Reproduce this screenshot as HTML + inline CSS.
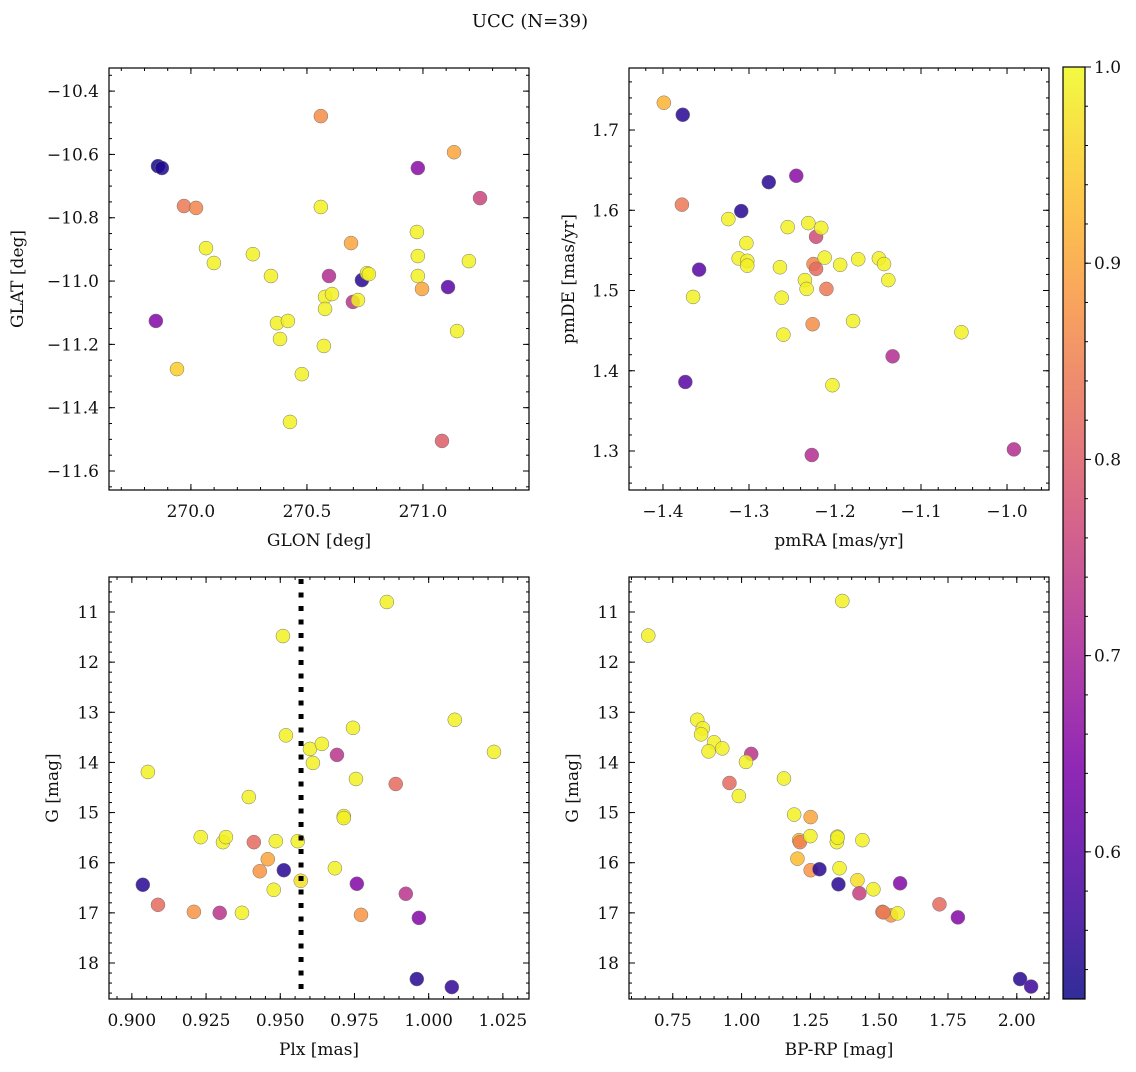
<!DOCTYPE html>
<html><head><meta charset="utf-8"><style>
body{margin:0;background:#fff;}
svg text{font-family:"DejaVu Serif","Liberation Serif",serif;fill:#111;}
</style></head><body>
<svg id="fig" width="1136" height="1067" xmlns="http://www.w3.org/2000/svg">
<text x="530" y="27" font-size="18" text-anchor="middle">UCC (N=39)</text>
</svg>
<script>
// Panel 1: GLON vs GLAT
const glon=[269.858,269.875,269.970,270.022,270.065,270.099,269.849,269.940,270.267,270.345,270.371,270.384,270.418,270.478,270.427,270.560,270.560,270.578,270.578,270.573,270.595,270.608,270.690,270.698,270.720,270.737,270.759,270.767,270.978,270.974,270.978,270.978,270.996,271.082,271.108,271.134,271.147,271.198,271.246];
const glat=[-10.637,-10.643,-10.763,-10.769,-10.896,-10.943,-11.126,-11.278,-10.915,-10.984,-11.133,-11.183,-11.126,-11.294,-11.445,-10.479,-10.766,-11.050,-11.088,-11.205,-10.984,-11.041,-10.880,-11.066,-11.060,-10.997,-10.975,-10.978,-10.643,-10.845,-10.921,-10.984,-11.025,-11.505,-11.019,-10.593,-11.158,-10.937,-10.738];
const prob1=[0.53,0.54,0.84,0.86,0.99,0.99,0.65,0.95,0.99,0.99,0.99,0.99,0.99,0.99,0.99,0.87,0.99,0.99,0.99,0.99,0.72,0.99,0.90,0.73,0.99,0.55,0.99,0.99,0.66,0.99,0.99,0.99,0.90,0.80,0.60,0.90,0.99,0.99,0.76];
// Panel 2: pmRA vs pmDE
const pmra=[-1.399,-1.377,-1.378,-1.358,-1.365,-1.374,-1.324,-1.312,-1.309,-1.303,-1.302,-1.302,-1.277,-1.264,-1.262,-1.260,-1.255,-1.245,-1.235,-1.233,-1.231,-1.227,-1.226,-1.225,-1.222,-1.222,-1.216,-1.212,-1.210,-1.203,-1.194,-1.179,-1.173,-1.149,-1.143,-1.138,-1.133,-1.053,-0.992];
const pmde=[1.734,1.719,1.607,1.526,1.492,1.386,1.589,1.540,1.599,1.559,1.537,1.531,1.635,1.529,1.491,1.445,1.579,1.643,1.513,1.502,1.584,1.295,1.458,1.533,1.527,1.567,1.578,1.541,1.502,1.382,1.532,1.462,1.539,1.540,1.533,1.513,1.418,1.448,1.302];
const prob2=[0.92,0.55,0.84,0.60,0.99,0.60,0.99,0.99,0.55,0.99,0.99,0.99,0.55,0.99,0.99,0.99,0.99,0.66,0.99,0.99,0.99,0.72,0.87,0.86,0.82,0.77,0.99,0.99,0.84,0.99,0.99,0.99,0.99,0.99,0.99,0.99,0.72,0.99,0.72];
// Panel 3: Plx vs G
const plx=[0.9054,0.9037,0.9088,0.9209,0.9296,0.9371,0.9394,0.9232,0.9307,0.9317,0.9411,0.9485,0.9458,0.9431,0.9512,0.9478,0.9559,0.9569,0.9600,0.9610,0.9640,0.9691,0.9755,0.9714,0.9714,0.9684,0.9758,0.9889,0.9923,0.9772,0.9967,0.9509,0.9519,0.9745,0.9859,0.9960,1.0078,1.0088,1.0220];
const gmag3=[14.19,16.44,16.84,16.98,17.00,17.00,14.69,15.49,15.59,15.49,15.59,15.57,15.93,16.17,16.15,16.54,15.57,16.36,13.73,14.01,13.63,13.85,14.33,15.07,15.11,16.11,16.42,14.43,16.62,17.04,17.10,11.48,13.46,13.31,10.80,18.32,18.48,13.15,13.79];
const prob3=[0.99,0.55,0.82,0.88,0.73,0.99,0.99,0.99,0.99,0.99,0.82,0.99,0.90,0.88,0.55,0.99,0.99,0.97,0.99,0.99,0.99,0.73,0.99,0.99,0.99,0.99,0.65,0.82,0.73,0.88,0.65,0.99,0.99,0.99,0.99,0.55,0.56,0.99,0.99];
const plxLine=0.957;
// Panel 4: BP-RP vs G
const bprp=[0.661,1.366,0.839,0.859,0.853,0.900,0.880,0.930,1.035,1.016,1.154,0.956,0.990,1.191,1.251,1.209,1.212,1.250,1.348,1.346,1.439,1.203,1.251,1.283,1.356,1.352,1.421,1.428,1.479,1.576,1.719,1.512,1.543,1.567,1.786,2.012,2.052,1.349,1.515];
const gmag4=[11.47,10.78,13.15,13.32,13.44,13.60,13.78,13.72,13.83,13.99,14.32,14.41,14.67,15.04,15.09,15.55,15.59,15.47,15.48,15.59,15.55,15.92,16.15,16.13,16.11,16.43,16.35,16.61,16.53,16.41,16.83,16.98,17.05,17.01,17.09,18.32,18.47,15.50,16.99];
const prob4=[0.99,0.99,0.99,0.99,0.99,0.99,0.99,0.99,0.73,0.99,0.99,0.82,0.99,0.99,0.90,0.93,0.85,0.99,0.99,0.99,0.99,0.93,0.88,0.55,0.99,0.55,0.97,0.75,0.99,0.65,0.82,0.85,0.88,0.99,0.65,0.55,0.57,0.99,0.84];
const cbTicks=[0.6,0.7,0.8,0.9,1.0];
const VMIN=0.525,VMAX=1.0;

const NS="http://www.w3.org/2000/svg";
const svg=document.getElementById('fig');
function mk(tag,attrs,parent){const e=document.createElementNS(NS,tag);for(const k in attrs)e.setAttribute(k,attrs[k]);(parent||svg).appendChild(e);return e;}
const stops=[[0,[13,8,135]],[0.125,[75,3,161]],[0.25,[125,3,168]],[0.375,[168,34,150]],[0.5,[203,70,121]],[0.625,[229,107,93]],[0.75,[248,148,65]],[0.875,[253,195,40]],[1,[240,249,33]]];
function plasma(t){t=Math.max(0,Math.min(1,t));for(let i=1;i<stops.length;i++){if(t<=stops[i][0]){const a=stops[i-1],b=stops[i],f=(t-a[0])/(b[0]-a[0]);const c=a[1].map((v,j)=>Math.round(v+(b[1][j]-v)*f));return `rgb(${c[0]},${c[1]},${c[2]})`;}}return 'rgb(240,249,33)';}
function fmt(v,d){const s=v.toFixed(d);return s.replace('-','\u2212');}

function panel(name,L,T,W,H,xmin,xmax,ymin,ymax,xMaj,xMin,yMaj,yMin,xd,yd,xlab,ylab,ylabX,xs,ys,ps,inv){
  const g=mk('g',{});
  
  
  const sx=v=>L+(v-xmin)/(xmax-xmin)*W;
  const sy=inv?(v=>T+(v-ymin)/(ymax-ymin)*H):(v=>T+H-(v-ymin)/(ymax-ymin)*H);
  const pts=mk('g',{},g);
  
  
  for(let i=0;i<xs.length;i++){
    const c=mk('circle',{cx:sx(xs[i]),cy:sy(ys[i]),r:7,fill:plasma((ps[i]-VMIN)/(VMAX-VMIN)),'fill-opacity':0.85,stroke:'#777','stroke-width':0.5},pts);
    
    
  }
  const ax=mk('g',{},g);
  
  
  mk('rect',{x:L,y:T,width:W,height:H,fill:'none',stroke:'#000','stroke-width':1.2},ax);
  const e=1e-9;
  for(let v=Math.ceil(xmin/xMin-e)*xMin;v<=xmax+e;v+=xMin){const X=sx(v);mk('line',{x1:X,x2:X,y1:T+H,y2:T+H-3,stroke:'#000'},ax);mk('line',{x1:X,x2:X,y1:T,y2:T+3,stroke:'#000'},ax);}
  for(let v=Math.ceil(xmin/xMaj-e)*xMaj;v<=xmax+e;v+=xMaj){const X=sx(v);mk('line',{x1:X,x2:X,y1:T+H,y2:T+H-6,stroke:'#000'},ax);mk('line',{x1:X,x2:X,y1:T,y2:T+6,stroke:'#000'},ax);
    const t=mk('text',{x:X,y:T+H+27,'font-size':17,'text-anchor':'middle'},ax);t.textContent=fmt(v,xd);
    }
  for(let v=Math.ceil(ymin/yMin-e)*yMin;v<=ymax+e;v+=yMin){const Y=sy(v);mk('line',{x1:L,x2:L+3,y1:Y,y2:Y,stroke:'#000'},ax);mk('line',{x1:L+W,x2:L+W-3,y1:Y,y2:Y,stroke:'#000'},ax);}
  for(let v=Math.ceil(ymin/yMaj-e)*yMaj;v<=ymax+e;v+=yMaj){const Y=sy(v);mk('line',{x1:L,x2:L+6,y1:Y,y2:Y,stroke:'#000'},ax);mk('line',{x1:L+W,x2:L+W-6,y1:Y,y2:Y,stroke:'#000'},ax);
    const t=mk('text',{x:L-10,y:Y+6,'font-size':17,'text-anchor':'end'},ax);t.textContent=fmt(v,yd);
    }
  const xl=mk('text',{x:L+W/2,y:T+H+56,'font-size':17,'text-anchor':'middle'},g);xl.textContent=xlab;
  
  const yl=mk('text',{x:ylabX,y:T+H/2,'font-size':17,'text-anchor':'middle',transform:`rotate(-90 ${ylabX} ${T+H/2})`},g);yl.textContent=ylab;
  
  return {sx,sy};
}
panel('glon-glat-panel',109,68,420,422,269.647,271.457,-11.66,-10.327,0.5,0.1,0.2,0.05,1,1,'GLON [deg]','GLAT [deg]',23,glon,glat,prob1,false);
panel('pm-panel',629,68,420,422,-1.4395,-0.9512,1.2514,1.7773,0.1,0.02,0.1,0.02,1,1,'pmRA [mas/yr]','pmDE [mas/yr]',574,pmra,pmde,prob2,false);
const p3=panel('plx-g-panel',109,577,420,422,0.8923,1.0338,10.302,18.718,0.025,0.005,1,0.2,3,0,'Plx [mas]','G [mag]',58,plx,gmag3,prob3,true);
panel('cmd-panel',629,577,420,422,0.591,2.117,10.302,18.718,0.25,0.05,1,0.2,2,0,'BP-RP [mag]','G [mag]',578,bprp,gmag4,prob4,true);
const vl=mk('line',{x1:p3.sx(plxLine),x2:p3.sx(plxLine),y1:579,y2:997,stroke:'#000','stroke-width':5,'stroke-dasharray':'5 8.5'});



// Colorbar
const cb=mk('g',{});


const defs=mk('defs',{},cb);
const lg=mk('linearGradient',{id:'cg',x1:0,y1:1,x2:0,y2:0},defs);
for(let i=0;i<=20;i++){mk('stop',{offset:i/20,'stop-color':plasma(i/20)},lg);}
const CT=67,CB=999,CL=1063,CW=22;
mk('rect',{x:CL,y:CT,width:CW,height:CB-CT,fill:'url(#cg)','fill-opacity':0.85,stroke:'#000','stroke-width':1.2},cb);
const cy=v=>CB-(v-VMIN)/(VMAX-VMIN)*(CB-CT);
for(let v=0.54;v<=1.0001;v+=0.02){mk('line',{x1:CL+CW,x2:CL+CW+3,y1:cy(v),y2:cy(v),stroke:'#000'},cb);}
cbTicks.forEach(v=>{mk('line',{x1:CL+CW,x2:CL+CW+6,y1:cy(v),y2:cy(v),stroke:'#000'},cb);
  const t=mk('text',{x:CL+CW+9,y:cy(v)+6,'font-size':17},cb);t.textContent=v.toFixed(1);
  });
</script>
</body></html>
